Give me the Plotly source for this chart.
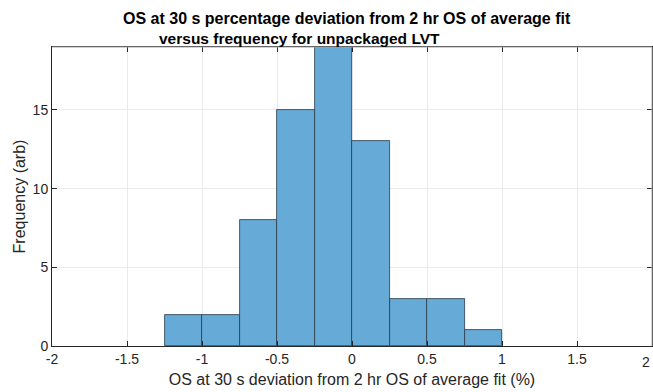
import plotly.graph_objects as go

# Histogram of deviations, bin width 0.25 %
bin_left_edges = [-1.25, -1.0, -0.75, -0.5, -0.25, 0.0, 0.25, 0.5, 0.75]
bin_counts = [2, 2, 8, 15, 19, 13, 3, 3, 1]
bin_width = 0.25

x_tick_vals = [-2, -1.5, -1, -0.5, 0, 0.5, 1, 1.5, 2]
x_tick_text = ["-2", "-1.5", "-1", "-0.5", "0", "0.5", "1", "1.5", "2"]
y_tick_vals = [0, 5, 10, 15]
y_tick_text = ["0", "5", "10", "15"]

title_line1 = "OS at 30 s percentage deviation from 2 hr OS of average fit"
title_line2 = "versus frequency for unpackaged LVT"
x_label = "OS at 30 s deviation from 2 hr OS of average fit (%)"
y_label = "Frequency (arb)"

centers = [e + bin_width / 2 for e in bin_left_edges]

FONT = "Liberation Sans, Arial, sans-serif"
AX = "#262626"
TICK_SIZE = 14

fig = go.Figure(
    go.Bar(
        x=centers,
        y=bin_counts,
        width=[bin_width] * len(centers),
        marker=dict(color="#66aad7", line=dict(color="#2b3a48", width=0.8)),
        hoverinfo="skip",
    )
)

axis_common = dict(
    showline=True,
    linecolor=AX,
    linewidth=1,
    mirror="allticks",
    ticks="inside",
    ticklen=5,
    tickwidth=1,
    tickcolor=AX,
    showgrid=True,
    gridcolor="#ebebeb",
    gridwidth=1,
    zeroline=False,
    tickfont=dict(family=FONT, size=TICK_SIZE, color=AX),
)

fig.update_xaxes(
    range=[-2, 2],
    tickmode="array",
    tickvals=x_tick_vals,
    ticktext=x_tick_text,
    title=dict(text=x_label, font=dict(family=FONT, size=16, color=AX), standoff=8),
    **axis_common,
)
fig.update_yaxes(
    range=[0, 19],
    tickmode="array",
    tickvals=y_tick_vals,
    ticktext=y_tick_text,
    title=dict(text=y_label, font=dict(family=FONT, size=16, color=AX), standoff=3),
    **axis_common,
)

# The last x tick label sits on the figure edge; draw it as text anchored
# to its right so it stays on the page.
edge_label = dict(
    text=x_tick_text[-1], x=x_tick_vals[-1], xref="x", y=0, yref="paper",
    yshift=-16, xanchor="right", yanchor="middle", showarrow=False,
    font=dict(family=FONT, size=TICK_SIZE, color=AX),
)

# lighter box edges on top and right
box_edges = [
    dict(type="line", xref="paper", yref="paper", x0=0, x1=1, y0=1, y1=1,
         line=dict(color="#a6a6a6", width=1)),
    dict(type="line", xref="paper", yref="paper", x0=1, x1=1, y0=0, y1=1,
         line=dict(color="#a6a6a6", width=1)),
]

fig.update_layout(
    width=653,
    height=392,
    margin=dict(l=52, r=1, t=47, b=46),
    paper_bgcolor="white",
    plot_bgcolor="white",
    showlegend=False,
    bargap=0,
    shapes=box_edges,
    annotations=[
        dict(text="<b>" + title_line1 + "</b>", xref="paper", yref="paper",
             x=0.491, y=1.0, yshift=29, xanchor="center", yanchor="middle",
             showarrow=False, font=dict(family=FONT, size=16, color="black")),
        dict(text="<b>" + title_line2 + "</b>", xref="paper", yref="paper",
             x=0.413, y=1.0, yshift=9, xanchor="center", yanchor="middle",
             showarrow=False, font=dict(family=FONT, size=15.5, color="black")),
        edge_label,
    ],
)

fig.write_html("out.html")
